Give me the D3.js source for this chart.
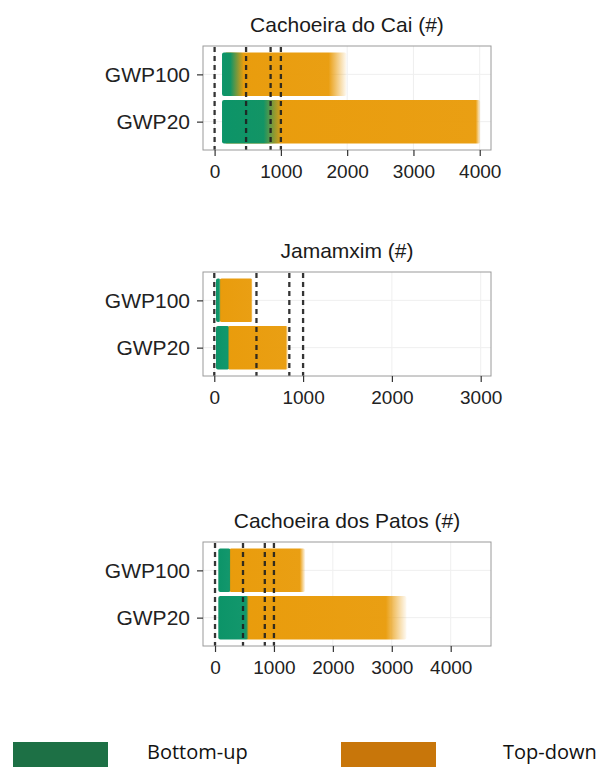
<!DOCTYPE html>
<html>
<head>
<meta charset="utf-8">
<script src="https://cdn.jsdelivr.net/npm/d3@7"></script>
<style>
  body { margin: 0; background: #fff; }
  svg { display: block; }
</style>
</head>
<body>
<div id="chart"></div>
<script>
// --- data ---
const panelTitles = ["Cachoeira do Cai (#)", "Jamamxim (#)", "Cachoeira dos Patos (#)"];
const metrics = ["GWP100", "GWP20"];
const xTickValues = [
  [0, 1000, 2000, 3000, 4000],
  [0, 1000, 2000, 3000],
  [0, 1000, 2000, 3000, 4000]
];
const xDomains = [[-175, 4170], [-127, 3116], [-204, 4684]];
const thresholds = [0, 475, 845, 1000];

// bottom-up strips per panel, per metric: [min, end of dense part, max]
const bottomUp = [
  [[112, 240, 430], [112, 740, 1000]],
  [[19, 55, 72], [19, 150, 170]],
  [[56, 245, 265], [56, 530, 570]]
];
// top-down strips per panel, per metric: [min, end of dense part, max]
const topDown = [
  [[150, 1720, 1990], [150, 3940, 4010]],
  [[60, 415, 432], [150, 805, 830]],
  [[240, 1440, 1530], [520, 2900, 3250]]
];

const legendLabels = ["Bottom-up", "Top-down"];

// --- layout ---
const W = 606, H = 767;
const boxLeft = 203, boxW = 288, boxH = 104;
const boxTops = [46, 272, 542];
const ptColor = { bu: "#0c9468", td: "#e99c0c" };
const legColor = ["#1d7045", "#c8760a"];

const svg = d3.select("#chart").append("svg")
  .attr("width", W)
  .attr("height", H);

const defs = svg.append("defs");
let gradId = 0;

// fading strip: solid from min to dense end, then fading out to max
const addStrip = (g, x, yc, halfH, r, color) => {
  const id = "grad" + (gradId++);
  const stop = (r[1] - r[0]) / (r[2] - r[0]);
  const grad = defs.append("linearGradient").attr("id", id);
  grad.append("stop").attr("offset", 0).attr("stop-color", color).attr("stop-opacity", 1);
  grad.append("stop").attr("offset", stop).attr("stop-color", color).attr("stop-opacity", 0.97);
  grad.append("stop").attr("offset", 1).attr("stop-color", color).attr("stop-opacity", 0.05);
  g.append("rect")
    .attr("x", x(r[0]))
    .attr("y", yc - halfH)
    .attr("width", x(r[2]) - x(r[0]))
    .attr("height", halfH * 2)
    .attr("rx", 2)
    .style("fill", `url(#${id})`);
};

panelTitles.forEach((title, i) => {
  const g = svg.append("g")
    .attr("transform", `translate(${boxLeft},${boxTops[i]})`);

  const x = d3.scaleLinear().domain(xDomains[i]).range([0, boxW]);
  const y = d3.scalePoint().domain(metrics).range([0, boxH]).padding(0.6);
  const halfH = y.step() * 0.46;

  // grid
  g.selectAll(".vgrid")
    .data(xTickValues[i])
    .enter().append("line")
    .attr("x1", d => x(d)).attr("x2", d => x(d))
    .attr("y1", 0).attr("y2", boxH)
    .style("stroke", "#efefef");
  g.selectAll(".hgrid")
    .data(metrics)
    .enter().append("line")
    .attr("x1", 0).attr("x2", boxW)
    .attr("y1", d => y(d)).attr("y2", d => y(d))
    .style("stroke", "#efefef");

  // strips: top-down underneath, bottom-up on top
  metrics.forEach((m, j) => {
    addStrip(g, x, y(m), halfH, topDown[i][j], ptColor.td);
  });
  metrics.forEach((m, j) => {
    addStrip(g, x, y(m), halfH, bottomUp[i][j], ptColor.bu);
  });

  // threshold lines
  g.selectAll(".thr")
    .data(thresholds)
    .enter().append("line")
    .attr("x1", d => x(d)).attr("x2", d => x(d))
    .attr("y1", 1).attr("y2", boxH)
    .style("stroke", "#1f1f1f")
    .style("stroke-width", 2.3)
    .style("stroke-dasharray", "5,4")
    .style("opacity", 0.9);

  // panel border
  g.append("rect")
    .attr("width", boxW).attr("height", boxH)
    .style("fill", "none")
    .style("stroke", "#9a9a9a");

  // axes
  const xAxis = g.append("g")
    .attr("transform", `translate(0,${boxH})`)
    .call(d3.axisBottom(x).tickValues(xTickValues[i]).tickFormat(d3.format("d")).tickSize(6).tickPadding(9));
  xAxis.select(".domain").remove();
  xAxis.selectAll("line").style("stroke", "#333").style("stroke-width", 1.2);
  xAxis.selectAll("text")
    .style("font-family", "'Liberation Sans', Arial, sans-serif")
    .style("font-size", "19px")
    .style("fill", "#222");

  const yAxis = g.append("g")
    .call(d3.axisLeft(y).tickSize(6).tickPadding(7));
  yAxis.select(".domain").remove();
  yAxis.selectAll("line").style("stroke", "#333").style("stroke-width", 1.2);
  yAxis.selectAll("text")
    .style("font-family", "'Liberation Sans', Arial, sans-serif")
    .style("font-size", "21px")
    .style("fill", "#222");

  // title
  g.append("text")
    .attr("x", boxW / 2)
    .attr("y", -14)
    .attr("text-anchor", "middle")
    .style("font-family", "'Liberation Sans', Arial, sans-serif")
    .style("font-size", "21px")
    .style("fill", "#1a1a1a")
    .text(title);
});

// legend
const legX = [13, 341];
const legTextX = [147, 503];
legendLabels.forEach((lab, k) => {
  svg.append("rect")
    .attr("x", legX[k]).attr("y", 742)
    .attr("width", 95).attr("height", 30)
    .style("fill", legColor[k]);
  svg.append("text")
    .attr("x", legTextX[k]).attr("y", 759)
    .style("font-family", "'Open Sans', sans-serif")
    .style("font-size", "20px")
    .style("fill", "#111")
    .text(lab);
});
</script>
</body>
</html>
